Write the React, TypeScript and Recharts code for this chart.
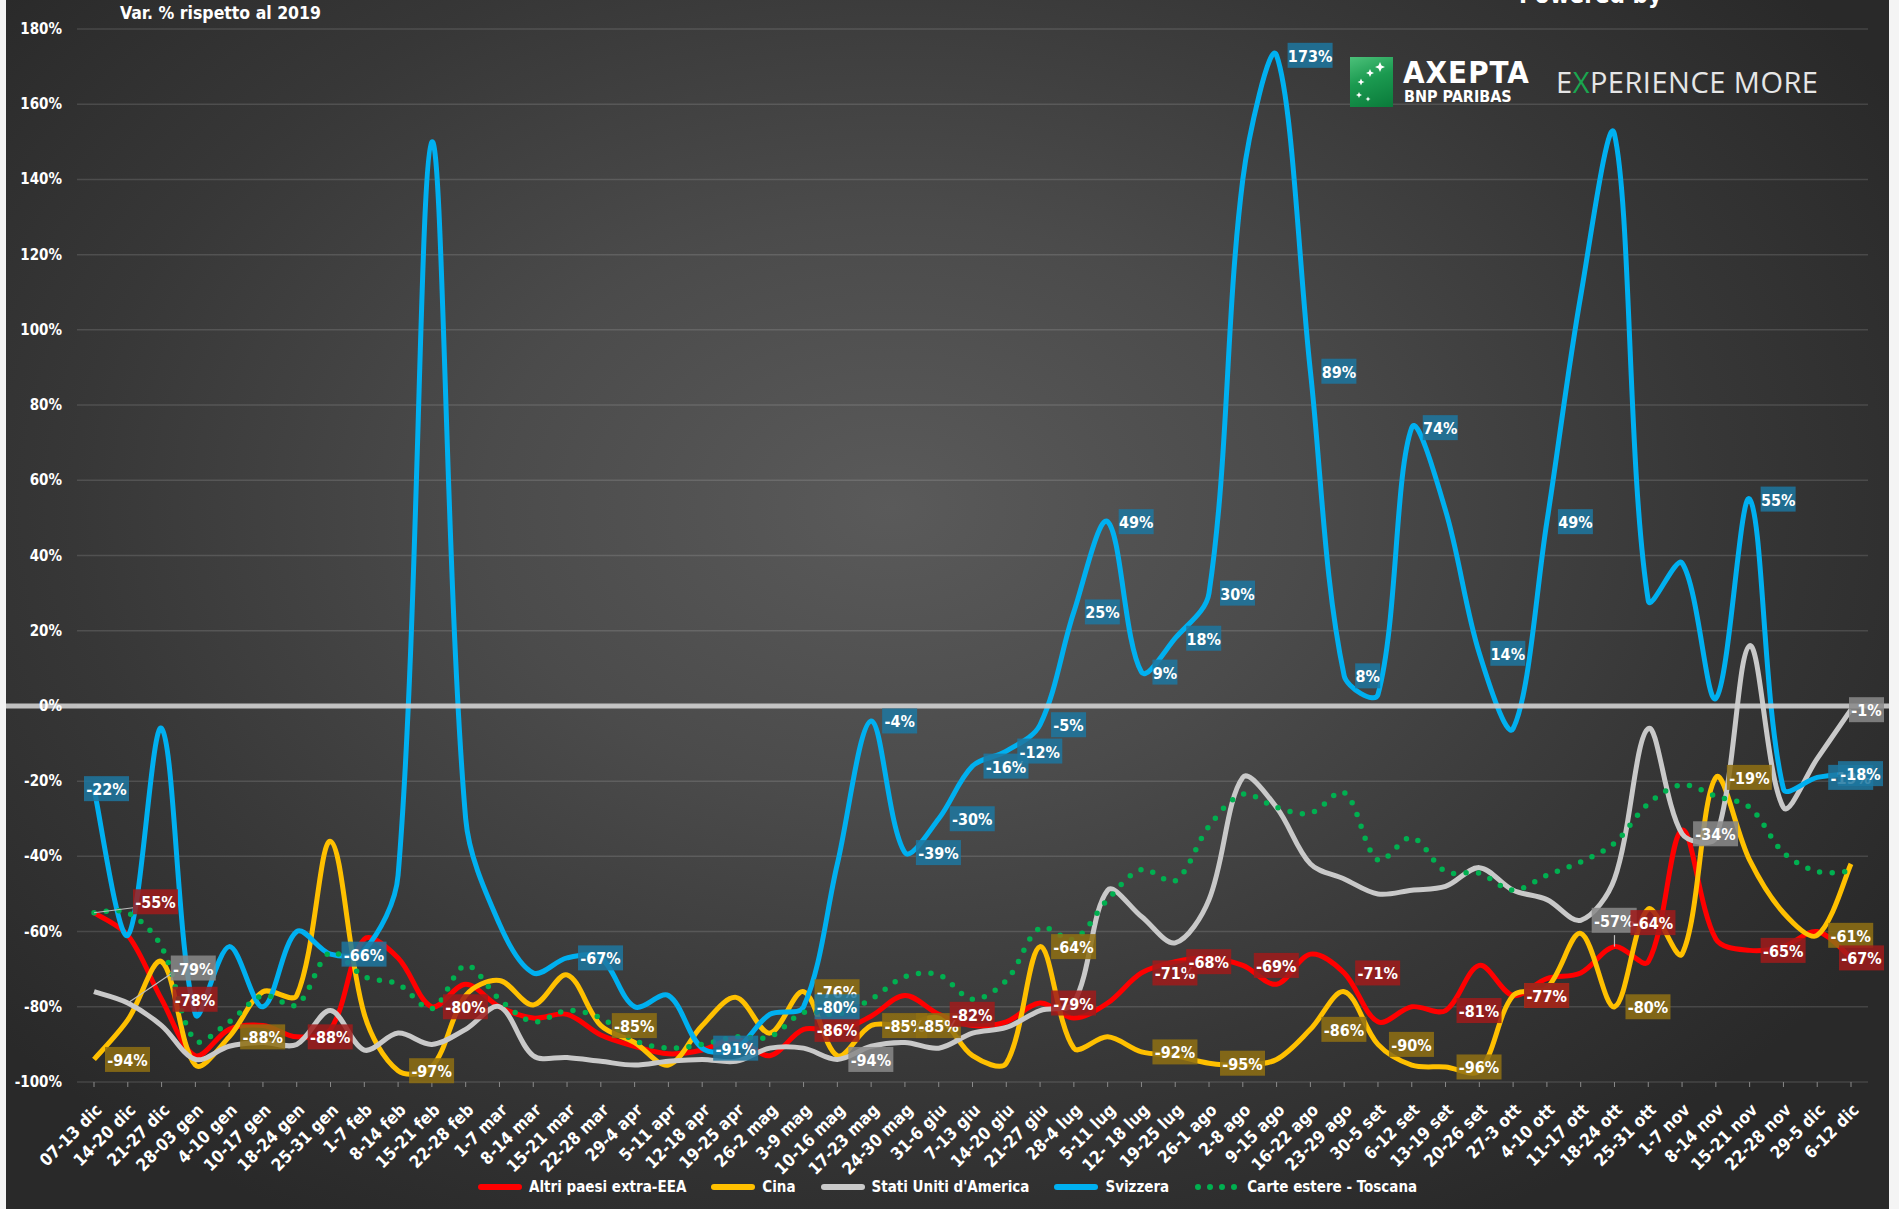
import { CartesianGrid, LabelList, Line, LineChart, ReferenceLine, XAxis, YAxis } from 'recharts';

const FONT = "'DejaVu Sans Condensed', 'Liberation Sans Narrow', 'Roboto Condensed', Roboto, sans-serif";

const WEEKS = [
  '07-13 dic', '14-20 dic', '21-27 dic', '28-03 gen', '4-10 gen', '10-17 gen', '18-24 gen', '25-31 gen',
  '1-7 feb', '8-14 feb', '15-21 feb', '22-28 feb', '1-7 mar', '8-14 mar', '15-21 mar', '22-28 mar',
  '29-4 apr', '5-11 apr', '12-18 apr', '19-25 apr', '26-2 mag', '3-9 mag', '10-16 mag', '17-23 mag',
  '24-30 mag', '31-6 giu', '7-13 giu', '14-20 giu', '21-27 giu', '28-4 lug', '5-11 lug', '12- 18 lug',
  '19-25 lug', '26-1 ago', '2-8 ago', '9-15 ago', '16-22 ago', '23-29 ago', '30-5 set', '6-12 set',
  '13-19 set', '20-26 set', '27-3 ott', '4-10 ott', '11-17 ott', '18-24 ott', '25-31 ott', '1-7 nov',
  '8-14 nov', '15-21 nov', '22-28 nov', '29-5 dic', '6-12 dic',
];

// Altri paesi extra-EEA
const OTHER = [
  -55, -61, -78, -93, -86, -85, -88, -86, -62, -67, -80, -74, -80, -83, -82, -87.5, -90.5, -92.5, -91.5, -88.5,
  -93, -86, -86.5, -82.5, -77, -82, -85, -84, -79, -83, -79, -71, -68, -67, -69, -74, -66, -71, -84, -80,
  -81, -69, -77, -72.5, -71, -64, -68, -33, -62, -65, -64, -60, -67,
];

// Cina
const CHINA = [
  -94, -83.5, -68, -95.5, -88, -76, -77, -36, -82, -97, -96, -77, -73, -79.5, -71.5, -85, -89.5, -95.5, -85, -77.5,
  -87, -76, -93, -85, -85, -83, -93, -95, -64, -91, -88, -92, -93, -95, -95.5, -94, -86, -76, -90, -95.5,
  -96, -97, -77, -75, -60.5, -80, -54, -66, -19, -41, -55, -61, -42,
];

// Stati Uniti d'America
const USA = [
  -76, -79, -85, -94, -90.5, -89.5, -90, -81, -91.5, -87, -90, -86, -80, -93, -93.5, -94.5, -95.5, -94.5, -94, -94.5,
  -91, -91, -94, -90.5, -89.5, -91, -87, -85.5, -81, -79, -49, -56, -63, -51.5, -19, -27, -42, -46, -50, -49,
  -48, -43, -49, -51.5, -57, -46, -6, -34, -35, 16, -27, -14, -1,
];

// Svizzera
const SWISS = [
  -22, -61, -6, -82, -64, -80, -60, -66, -65, -45, 150, -30, -58, -71, -67, -67, -80, -77, -91, -91,
  -82, -80, -42, -4, -39, -30, -16, -12, -5, 25, 49, 9, 18, 30, 140, 173, 89, 8, 3, 74,
  52, 14, -6, 49, 109, 152, 28, 38, 2, 55, -22, -19, -18,
];

// Carte estere - Toscana
const TUSCANY = [
  -55, -55, -64, -89, -84, -77, -79.5, -65.5, -72, -74, -80.5, -69, -78, -84, -81, -83, -89, -91, -90, -88,
  -88, -81.5, -82, -78, -72, -71.5, -78, -73, -59, -62, -51.5, -43.5, -46.5, -32, -23.5, -27, -28.5, -23, -41, -35,
  -44, -44.5, -49, -45, -41.5, -36.5, -26, -21, -24, -27, -39, -44, -44,
];

const Y_TICKS = [-100, -80, -60, -40, -20, 0, 20, 40, 60, 80, 100, 120, 140, 160, 180];

const rows = WEEKS.map((week, i) => ({
  week,
  other: OTHER[i],
  china: CHINA[i],
  usa: USA[i],
  swiss: SWISS[i],
  tuscany: TUSCANY[i],
}));

// which points carry a data label, and where the box sits
type Tag = { dx?: number; dy?: number; lead?: 'side' | 'down' };

const SWISS_TAGS: Record<number, Tag> = {
  0: { dx: -10 }, 7: {}, 14: {}, 18: {}, 21: {}, 23: {}, 24: {}, 25: {}, 26: {}, 27: {}, 28: {}, 29: {},
  30: {}, 31: {}, 32: {}, 33: {}, 35: {}, 36: {}, 37: {}, 39: {}, 41: {}, 43: {}, 49: {}, 51: {}, 52: { dx: -13 },
};
const OTHER_TAGS: Record<number, Tag> = {
  0: { dx: 39, dy: -11, lead: 'side' }, 2: {}, 6: {}, 10: {}, 21: {}, 25: {}, 28: {}, 31: {}, 32: {}, 34: {},
  37: {}, 40: {}, 42: {}, 45: { dx: 16, dy: -24, lead: 'down' }, 49: {}, 52: { dx: -12 },
};
const CHINA_TAGS: Record<number, Tag> = {
  0: {}, 4: {}, 9: {}, 15: {}, 21: {}, 23: {}, 24: {}, 28: {}, 31: {}, 33: {}, 36: {}, 38: {}, 40: {}, 42: {},
  45: {}, 48: {}, 51: {},
};
const USA_TAGS: Record<number, Tag> = {
  1: { dx: 43, dy: -35, lead: 'side' }, 22: {}, 44: {}, 47: {}, 52: { dx: -2 },
};

function tagRenderer(fill: string, tags: Record<number, Tag>) {
  return (props: any) => {
    const { x, y, value, index } = props;
    const tag = tags[index];
    if (!tag || value == null) return null;
    const text = `${Math.round(value)}%`;
    const w = text.length * 10 + 5;
    const h = 25;
    const left = x + (tag.dx ?? 11);
    const cy = y + (tag.dy ?? 0);
    return (
      <g>
        {tag.lead === 'side' ? (
          <line x1={x} y1={y} x2={left} y2={cy + 6} stroke="#bdbdbd" strokeWidth={1.2} />
        ) : null}
        {tag.lead === 'down' ? (
          <line x1={x} y1={y} x2={x} y2={cy + h / 2} stroke="#bdbdbd" strokeWidth={1.2} />
        ) : null}
        <rect x={left} y={cy - h / 2} width={w} height={h} fill={fill} fillOpacity={0.85} />
        <text
          x={left + w / 2}
          y={cy + 1}
          textAnchor="middle"
          dominantBaseline="central"
          fill="#fff"
          fontSize={16}
          fontWeight={700}
          fontFamily={FONT}
        >
          {text}
        </text>
      </g>
    );
  };
}

// Excel-style smoothed line: Bezier through every point, tangents split by chord length
function excelSmooth(context: any) {
  let pts: number[][] = [];
  const handles = (i: number) => {
    const p = pts[i];
    const prev = pts[i - 1] ?? p;
    const next = pts[i + 1] ?? p;
    const tx = next[0] - prev[0];
    const ty = next[1] - prev[1];
    let kin = 1 / 6;
    let kout = 1 / 6;
    if (i > 0 && i < pts.length - 1) {
      const d0 = Math.hypot(p[0] - prev[0], p[1] - prev[1]);
      const d1 = Math.hypot(next[0] - p[0], next[1] - p[1]);
      const s = d0 + d1 || 1;
      kin = d0 / s / 3;
      kout = d1 / s / 3;
    }
    return {
      inX: p[0] - tx * kin,
      inY: p[1] - ty * kin,
      outX: p[0] + tx * kout,
      outY: p[1] + ty * kout,
    };
  };
  return {
    areaStart() {},
    areaEnd() {},
    lineStart() {
      pts = [];
    },
    point(x: number, y: number) {
      pts.push([+x, +y]);
    },
    lineEnd() {
      const n = pts.length;
      if (!n) return;
      context.moveTo(pts[0][0], pts[0][1]);
      for (let i = 0; i < n - 1; i++) {
        const a = handles(i);
        const b = handles(i + 1);
        context.bezierCurveTo(a.outX, a.outY, b.inX, b.inY, pts[i + 1][0], pts[i + 1][1]);
      }
    },
  };
}

function WeekTick(props: any) {
  const { x, y, payload } = props;
  const ax = x + 9;
  const ay = y + 22;
  return (
    <text
      x={ax}
      y={ay}
      transform={`rotate(-45 ${ax} ${ay})`}
      textAnchor="end"
      fill="#fff"
      fontSize={17}
      fontWeight={700}
      fontFamily={FONT}
    >
      {payload.value}
    </text>
  );
}

function PctTick(props: any) {
  const { y, payload } = props;
  return (
    <text x={56} y={y} textAnchor="end" dominantBaseline="central" fill="#fff" fontSize={15} fontWeight={700} fontFamily={FONT}>
      {`${payload.value}%`}
    </text>
  );
}

const SERIES = [
  { key: 'other', name: 'Altri paesi extra-EEA', color: '#ff0000' },
  { key: 'china', name: 'Cina', color: '#ffc000' },
  { key: 'usa', name: "Stati Uniti d'America", color: '#c9c9c9' },
  { key: 'swiss', name: 'Svizzera', color: '#00b0f0' },
];

function LegendRow() {
  const item = (color: string, name: string, dotted = false) => (
    <div key={name} style={{ display: 'flex', alignItems: 'center', gap: 7 }}>
      {dotted ? (
        <svg width={46} height={8}>
          <line x1={4} x2={44} y1={4} y2={4} stroke="#00b050" strokeWidth={6} strokeDasharray="0 12" strokeLinecap="round" />
        </svg>
      ) : (
        <span style={{ width: 44, height: 6, borderRadius: 3, background: color, display: 'inline-block' }} />
      )}
      <span>{name}</span>
    </div>
  );
  return (
    <div
      style={{
        position: 'absolute',
        left: 472,
        top: 1178,
        display: 'flex',
        gap: 25,
        whiteSpace: 'nowrap',
        color: '#fff',
        fontFamily: FONT,
        fontWeight: 700,
        fontSize: 15,
      }}
    >
      {SERIES.map((s) => item(s.color, s.name))}
      {item('#00b050', 'Carte estere - Toscana', true)}
    </div>
  );
}

function Logo() {
  return (
    <div style={{ whiteSpace: 'nowrap', lineHeight: 1 }}>
      <div
        style={{
          position: 'absolute',
          left: 1356,
          top: 57,
          width: 43,
          height: 50,
          background: 'linear-gradient(160deg, #4cc17a 0%, #1b9a50 45%, #0a7a3a 100%)',
        }}
      >
        <svg width={43} height={50}>
          {[
            [30, 10, 5],
            [20, 16, 4],
            [11, 25, 3.5],
            [9, 38, 3],
            [18, 42, 2.5],
          ].map(([cx, cy, r], i) => (
            <path
              key={i}
              d={`M${cx} ${cy - r} L${cx + r * 0.3} ${cy - r * 0.3} L${cx + r} ${cy} L${cx + r * 0.3} ${cy + r * 0.3} L${cx} ${cy + r} L${cx - r * 0.3} ${cy + r * 0.3} L${cx - r} ${cy} L${cx - r * 0.3} ${cy - r * 0.3} Z`}
              fill="#fff"
            />
          ))}
        </svg>
      </div>
      <div style={{ position: 'absolute', left: 1409, top: 57, color: '#fff', fontFamily: FONT, fontWeight: 700, fontSize: 31, letterSpacing: 1 }}>
        AXEPTA
      </div>
      <div style={{ position: 'absolute', left: 1410, top: 89, color: '#fff', fontFamily: FONT, fontWeight: 700, fontSize: 16 }}>
        BNP PARIBAS
      </div>
      <div
        style={{
          position: 'absolute',
          left: 1562,
          top: 67,
          color: '#e6e6e6',
          fontFamily: "'Open Sans', Lato, sans-serif",
          fontWeight: 400,
          fontSize: 29,
          letterSpacing: 0.5,
        }}
      >
        E<span style={{ color: '#1aa64f' }}>X</span>PERIENCE MORE
      </div>
    </div>
  );
}

export default function App() {
  return (
    <div style={{ position: 'relative', width: 1899, height: 1209, background: '#f4f4f4', overflow: 'hidden' }}>
      <style>{'body{margin:0}'}</style>
      <div
        style={{
          position: 'absolute',
          left: 6,
          top: 0,
          width: 1883,
          height: 1209,
          overflow: 'hidden',
          background:
            'radial-gradient(ellipse 62% 68% at 47% 42%, #5a5a5a 0%, #4b4b4b 35%, #373737 70%, #292929 100%)',
        }}
      >
        <LineChart width={1883} height={1209} data={rows} margin={{ top: 29, right: 21, left: 11, bottom: 0 }}>
          <CartesianGrid vertical={false} stroke="rgba(255,255,255,0.13)" strokeWidth={1.5} />
          <XAxis
            dataKey="week"
            interval={0}
            height={127}
            padding={{ left: 17, right: 17 }}
            axisLine={false}
            tickLine={{ stroke: '#8a8a8a' }}
            tickSize={5}
            tick={<WeekTick />}
          />
          <YAxis
            width={60}
            domain={[-100, 180]}
            ticks={Y_TICKS}
            allowDataOverflow
            axisLine={false}
            tickLine={false}
            tick={<PctTick />}
          />
          {SERIES.map((s) => (
            <Line
              key={s.key}
              dataKey={s.key}
              name={s.name}
              type={excelSmooth as any}
              stroke={s.color}
              strokeWidth={5}
              dot={false}
              activeDot={false}
              isAnimationActive={false}
            />
          ))}
          <Line
            dataKey="tuscany"
            name="Carte estere - Toscana"
            type={excelSmooth as any}
            stroke="#00b050"
            strokeWidth={5.5}
            strokeDasharray="0 12.5"
            strokeLinecap="round"
            dot={false}
            activeDot={false}
            isAnimationActive={false}
          />
          <ReferenceLine
            y={0}
            shape={(p: any) => (
              <line x1={0} x2={1883} y1={p.y1} y2={p.y2} stroke="#cfcfcf" strokeOpacity={0.9} strokeWidth={5} />
            )}
          />
          <Line dataKey="usa" stroke="none" dot={false} activeDot={false} legendType="none" isAnimationActive={false}>
            <LabelList dataKey="usa" content={tagRenderer('#8a8a8a', USA_TAGS)} />
          </Line>
          <Line dataKey="china" stroke="none" dot={false} activeDot={false} legendType="none" isAnimationActive={false}>
            <LabelList dataKey="china" content={tagRenderer('#8f7013', CHINA_TAGS)} />
          </Line>
          <Line dataKey="other" stroke="none" dot={false} activeDot={false} legendType="none" isAnimationActive={false}>
            <LabelList dataKey="other" content={tagRenderer('#a01b1b', OTHER_TAGS)} />
          </Line>
          <Line dataKey="swiss" stroke="none" dot={false} activeDot={false} legendType="none" isAnimationActive={false}>
            <LabelList dataKey="swiss" content={tagRenderer('#1d77a0', SWISS_TAGS)} />
          </Line>
        </LineChart>
        <div
          style={{
            position: 'absolute',
            left: 114,
            top: 3,
            whiteSpace: 'nowrap',
            color: '#fff',
            fontFamily: FONT,
            fontWeight: 700,
            fontSize: 17.5,
          }}
        >
          Var. % rispetto al 2019
        </div>
        <div
          style={{
            position: 'absolute',
            left: 1513,
            top: -19,
            whiteSpace: 'nowrap',
            color: '#fff',
            fontFamily: FONT,
            fontWeight: 700,
            fontSize: 24,
          }}
        >
          Powered by
        </div>
        <LegendRow />
      </div>
      <div style={{ position: 'absolute', left: -6, top: 0 }}>
        <Logo />
      </div>
    </div>
  );
}
